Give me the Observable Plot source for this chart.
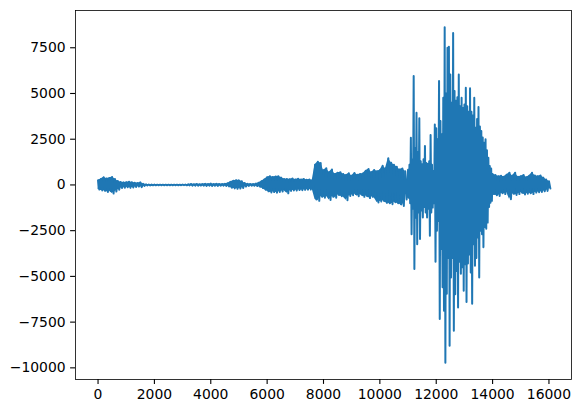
<!DOCTYPE html>
<html>
<head>
<meta charset="utf-8">
<script src="https://cdn.jsdelivr.net/npm/d3@7"></script>
<script src="https://cdn.jsdelivr.net/npm/@observablehq/plot@0.6"></script>
<style>
  html, body { margin: 0; padding: 0; background: white; }
</style>
</head>
<body>
<div id="chart"></div>
<script>
// Waveform envelope (peak / trough per block of samples)
// Quiet part: samples 0 .. 10900, one block per 100 samples
const quietStart = 0;
const quietStep = 100;
const quietHi = [
  250, 320, 420, 350, 380, 430, 320, 220, 160, 140,
  150, 180, 150, 120, 100, 140, 60, 30, 25, 20,
  20, 15, 15, 15, 15, 15, 15, 15, 15, 15,
  20, 20, 30, 50, 40, 55, 40, 45, 60, 50,
  70, 50, 60, 55, 50, 60, 90, 170, 230, 260,
  250, 200, 110, 60, 55, 50, 70, 120, 200, 300,
  420, 480, 430, 460, 470, 400, 330, 320, 310, 350,
  300, 340, 300, 330, 280, 300, 260, 1100, 1270, 1200,
  800, 910, 700, 850, 600, 670, 700, 600, 550, 640,
  500, 650, 560, 600, 620, 780, 870, 700, 820, 750,
  800, 1050, 900, 1460, 1220, 1100, 1000, 850, 900, 750
];
const quietLo = [
  -250, -300, -320, -380, -330, -470, -360, -260, -170, -150,
  -130, -160, -140, -110, -90, -120, -50, -30, -25, -20,
  -20, -15, -15, -15, -15, -15, -15, -15, -15, -15,
  -15, -20, -25, -40, -40, -45, -35, -40, -50, -40,
  -55, -45, -50, -45, -40, -50, -80, -150, -190, -210,
  -200, -170, -90, -50, -45, -45, -60, -100, -170, -260,
  -350, -410, -390, -420, -380, -360, -300, -460, -330, -300,
  -310, -280, -290, -270, -260, -250, -230, -800, -870, -650,
  -700, -600, -820, -650, -700, -550, -620, -650, -840, -600,
  -560, -500, -620, -520, -650, -600, -720, -650, -700, -960,
  -900, -870, -980, -1000, -1050, -950, -1000, -1050, -1150, -800
];
// Loud part: samples 11000 .. 13950, one block per 50 samples
const loudStart = 11000;
const loudStep = 50;
const loudHi = [
  830, 1100, 2580, 1400, 5950, 2000, 3950, 1800, 3640, 1300,
  1130, 1400, 2130, 1200, 1140, 1300, 2730, 1100, 760, 3310,
  3100, 2500, 5680, 3500, 2770, 4770, 8620, 5000, 7500, 7550,
  6040, 4500, 8310, 5130, 4600, 4800, 6040, 4300, 4770, 4200,
  4400, 5310, 4300, 4000, 5280, 4000, 3800, 4770, 3130, 3600,
  4260, 3200, 2950, 2600, 2300, 2500, 1900, 1490, 1040, 900
];
const loudLo = [
  -700, -1000, -2690, -1300, -4600, -1800, -3240, -1500, -2960, -1400,
  -1780, -1200, -1510, -1780, -1300, -2780, -1500, -1240, -1000, -4200,
  -2500, -1970, -7330, -3500, -5600, -6880, -9720, -5950, -4000, -8790,
  -5060, -4000, -7970, -5970, -4700, -6700, -4200, -4860, -4500, -5790,
  -4330, -6400, -4300, -3800, -4790, -6500, -3240, -4420, -4000, -2880,
  -5060, -2500, -2700, -3400, -2300, -2400, -2060, -1200, -970, -870
];
// Tail: samples 14000 .. 16000, one block per 100 samples
const tailStart = 14000;
const tailStep = 100;
const tailHi = [
  600, 550, 480, 500, 450, 560, 670, 500, 670, 450,
  480, 550, 420, 500, 670, 520, 480, 520, 400, 300, 200
];
const tailLo = [
  -500, -560, -600, -450, -500, -420, -780, -480, -550, -500,
  -420, -520, -480, -450, -500, -420, -400, -380, -350, -330, -200
];

const sampleCount = 16000;
const xTicks = [0, 2000, 4000, 6000, 8000, 10000, 12000, 14000, 16000];
const yTicks = [-10000, -7500, -5000, -2500, 0, 2500, 5000, 7500];

// Build the oscillating trace: each block goes to its peak, then its trough
const rows = [];
function addSegment(start, step, hi, lo) {
  hi.forEach((h, i) => {
    rows.push({t: start + i * step, v: h});
    rows.push({t: start + i * step + step / 2, v: lo[i]});
  });
}
addSegment(quietStart, quietStep, quietHi, quietLo);
addSegment(loudStart, loudStep, loudHi, loudLo);
addSegment(tailStart, tailStep, tailHi, tailLo);

// Dense body (filled envelope) of the quieter blocks
function blocks(start, step, hi, lo) {
  return hi.map((h, i) => ({t: start + i * step, hi: h, lo: lo[i]}));
}
const quietBody = blocks(quietStart, quietStep, quietHi, quietLo);
const tailBody = blocks(tailStart, tailStep, tailHi, tailLo);

const [vMin, vMax] = d3.extent(rows, d => d.v);
const vPad = (vMax - vMin) * 0.05;
const tPad = sampleCount * 0.05;
const fmt = d3.format("d");
const blue = "#1f77b4";

const chart = Plot.plot({
  width: 581,
  height: 413,
  marginLeft: 75,
  marginRight: 10,
  marginTop: 10,
  marginBottom: 34,
  style: {
    fontFamily: "DejaVu Sans, sans-serif",
    fontSize: "13.9px",
    color: "black",
    background: "white",
    overflow: "visible"
  },
  x: {domain: [-tPad, sampleCount + tPad]},
  y: {domain: [vMin - vPad, vMax + vPad]},
  marks: [
    Plot.areaY(quietBody, {x: "t", y1: "lo", y2: "hi", fill: blue}),
    Plot.areaY(tailBody, {x: "t", y1: "lo", y2: "hi", fill: blue}),
    Plot.line(rows, {x: "t", y: "v", stroke: blue, strokeWidth: 2, strokeLinejoin: "round"}),
    Plot.frame({stroke: "black", strokeWidth: 0.8}),
    Plot.axisX({ticks: xTicks, tickFormat: fmt, tickSize: 4.9, tickPadding: 5, strokeWidth: 1.1, label: null}),
    Plot.axisY({ticks: yTicks, tickFormat: fmt, tickSize: 4.9, tickPadding: 5, strokeWidth: 1.1, label: null})
  ]
});
document.getElementById("chart").appendChild(chart);
</script>
</body>
</html>
